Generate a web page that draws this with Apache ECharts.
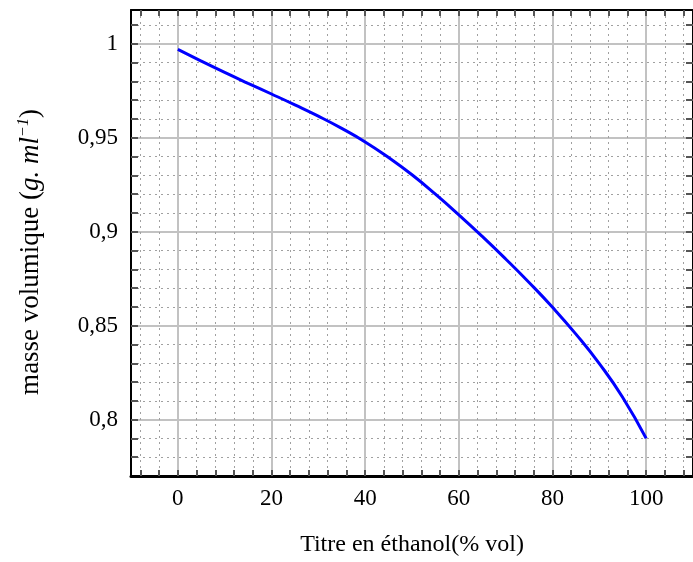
<!DOCTYPE html>
<html>
<head>
<meta charset="utf-8">
<script src="https://cdn.jsdelivr.net/npm/echarts@6/dist/echarts.min.js"></script>
<style>html,body{margin:0;padding:0;background:#fff}#c{width:693px;height:562px}</style>
</head>
<body>
<div id="c"></div>
<script>
// Data
const titre = [0, 5, 10, 15, 20, 25, 30, 35, 40, 45, 50, 55, 60, 65, 70, 75, 80, 85, 90, 95, 100];
const masse = [0.997, 0.9908, 0.9848, 0.979, 0.9733, 0.9675, 0.9615, 0.955, 0.9478, 0.9395, 0.9303, 0.920, 0.909, 0.8975, 0.8855, 0.873, 0.8598, 0.8455, 0.8298, 0.8118, 0.790];

const xLabelValues = [0, 20, 40, 60, 80, 100];
const xMinorValues = [-8, -4, 0, 4, 8, 12, 16, 20, 24, 28, 32, 36, 40, 44, 48, 52, 56, 60, 64, 68, 72, 76, 80, 84, 88, 92, 96, 100, 104, 108];
const yLabelValues = [0.8, 0.85, 0.9, 0.95, 1];
const yMinorValues = [0.78, 0.79, 0.8, 0.81, 0.82, 0.83, 0.84, 0.85, 0.86, 0.87, 0.88, 0.89, 0.9, 0.91, 0.92, 0.93, 0.94, 0.95, 0.96, 0.97, 0.98, 0.99, 1, 1.01];

const FONT = 'Liberation Serif';
const chart = echarts.init(document.getElementById('c'));

const minorSplit = { show: true, lineStyle: { color: '#a0a0a0', width: 1, type: [2, 4] } };
const majorSplit = { show: true, lineStyle: { color: '#c2c2c2', width: 2, type: 'solid' } };
const tickStyle = { show: true, inside: true, length: 6, lineStyle: { color: '#555', width: 2 } };

const option = {
  animation: false,
  backgroundColor: '#fff',
  grid: { left: 131, top: 10, width: 566, height: 468, containLabel: false },
  xAxis: [
    {
      type: 'value', min: -10, max: 110, position: 'bottom',
      axisLine: { show: true, onZero: false, lineStyle: { color: '#000', width: 3 } },
      axisTick: Object.assign({}, tickStyle, { customValues: xMinorValues }),
      axisLabel: { customValues: xLabelValues, fontFamily: FONT, fontSize: 23, color: '#000', margin: 11 },
      splitLine: minorSplit,
      name: 'Titre en éthanol(% vol)', nameLocation: 'middle', nameGap: 57,
      nameTextStyle: { fontFamily: FONT, fontSize: 24, color: '#000' }
    },
    {
      type: 'value', min: -10, max: 110, position: 'top',
      axisLine: { show: true, onZero: false, lineStyle: { color: '#000', width: 2 } },
      axisTick: Object.assign({}, tickStyle, { customValues: xMinorValues }),
      axisLabel: { show: false },
      splitLine: { show: false }
    },
    {
      type: 'value', min: -10, max: 110, position: 'bottom',
      axisLine: { show: false },
      axisTick: { show: false, customValues: xLabelValues },
      axisLabel: { show: false },
      splitLine: majorSplit
    }
  ],
  yAxis: [
    {
      type: 'value', min: 0.77, max: 1.018, position: 'left',
      axisLine: { show: true, onZero: false, lineStyle: { color: '#000', width: 2 } },
      axisTick: Object.assign({}, tickStyle, { length: 7, customValues: yMinorValues }),
      axisLabel: {
        customValues: yLabelValues, fontFamily: FONT, fontSize: 23, color: '#000', margin: 13,
        formatter: v => String(+(+v).toFixed(2)).replace('.', ',')
      },
      splitLine: minorSplit,
      name: '{n|masse volumique (}{i|g. ml}{s|−1}{n|)}', nameLocation: 'middle', nameGap: 86, nameRotate: 90,
      nameTextStyle: {
        fontFamily: FONT, fontSize: 27, color: '#000', padding: [0, 18, 0, 0],
        rich: {
          n: { fontFamily: FONT, fontSize: 27, color: '#000' },
          i: { fontFamily: FONT, fontSize: 27, fontStyle: 'italic', color: '#000' },
          s: { fontFamily: FONT, fontSize: 16, fontStyle: 'italic', color: '#000', verticalAlign: 'top', lineHeight: 29 }
        }
      }
    },
    {
      type: 'value', min: 0.77, max: 1.018, position: 'right',
      axisLine: { show: true, onZero: false, lineStyle: { color: '#000', width: 2 } },
      axisTick: Object.assign({}, tickStyle, { length: 7, customValues: yMinorValues }),
      axisLabel: { show: false },
      splitLine: { show: false }
    },
    {
      type: 'value', min: 0.77, max: 1.018, position: 'left',
      axisLine: { show: false },
      axisTick: { show: false, customValues: yLabelValues },
      axisLabel: { show: false },
      splitLine: majorSplit
    }
  ],
  series: [
    {
      type: 'line', xAxisIndex: 0, yAxisIndex: 0,
      data: titre.map((t, i) => [t, masse[i]]),
      smooth: 0.5, showSymbol: false, symbol: 'none',
      lineStyle: { color: '#0000ff', width: 3 }, z: 10
    }
  ]
};
chart.setOption(option);
</script>
</body>
</html>
